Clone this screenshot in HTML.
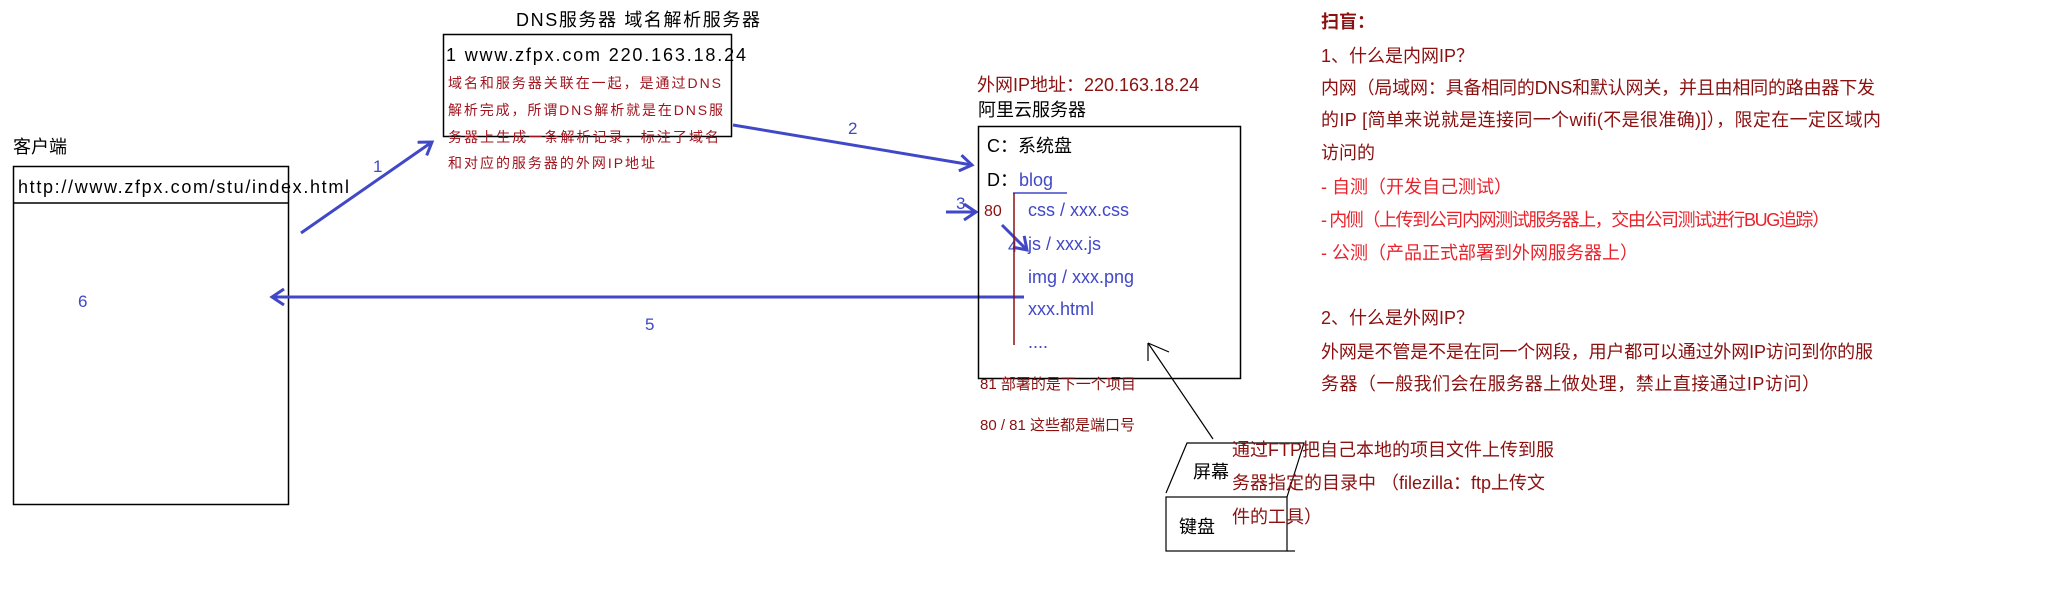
<!DOCTYPE html>
<html><head><meta charset="utf-8"><style>
html,body{margin:0;padding:0;background:#fff;}
svg{display:block;}
text{font-family:"Liberation Sans","Noto Sans CJK SC",sans-serif;}
</style></head><body>
<svg width="2046" height="615" viewBox="0 0 2046 615" xmlns="http://www.w3.org/2000/svg">
<defs>
<marker id="ah" markerWidth="16" markerHeight="18" refX="13" refY="9" orient="auto" markerUnits="userSpaceOnUse">
<path d="M1,1 L13,9 L1,17" fill="none" stroke="#4048c8" stroke-width="3"/>
</marker>
</defs>
<!-- DNS -->
<text x="516" y="26" font-size="18" fill="#000" textLength="244">DNS服务器  域名解析服务器</text>
<rect x="443.5" y="34.5" width="288" height="102" fill="none" stroke="#000" stroke-width="1.5"/>
<text x="446" y="61" font-size="18" fill="#000" textLength="300">1  www.zfpx.com    220.163.18.24</text>
<g font-size="14" fill="#a0141e">
<text x="448" y="88" textLength="273">域名和服务器关联在一起，是通过DNS</text>
<text x="448" y="115" textLength="275">解析完成，所谓DNS解析就是在DNS服</text>
<text x="448" y="142" textLength="271">务器上生成一条解析记录，标注了域名</text>
<text x="448" y="168" textLength="207">和对应的服务器的外网IP地址</text>
</g>
<!-- client -->
<text x="13" y="153" font-size="18" fill="#000">客户端</text>
<rect x="13.5" y="166.5" width="275" height="338" fill="none" stroke="#000" stroke-width="1.5"/>
<line x1="13" y1="203" x2="288" y2="203" stroke="#000" stroke-width="1.5"/>
<text x="18" y="193" font-size="18" fill="#000" textLength="331">http://www.zfpx.com/stu/index.html</text>
<!-- arrows -->
<g stroke="#4048c8" stroke-width="3" fill="none">
<line x1="301" y1="233" x2="432" y2="142" marker-end="url(#ah)"/>
<line x1="733" y1="125" x2="972" y2="165" marker-end="url(#ah)"/>
<line x1="946" y1="212" x2="976" y2="212" marker-end="url(#ah)"/>
<line x1="1002" y1="225" x2="1027" y2="250" marker-end="url(#ah)"/>
<line x1="1024" y1="297" x2="272" y2="297" marker-end="url(#ah)"/>
</g>
<g font-size="17" fill="#4048c8">
<text x="373" y="172">1</text>
<text x="848" y="134">2</text>
<text x="956" y="209">3</text>
<text x="1008" y="252">4</text>
<text x="645" y="330">5</text>
<text x="78" y="307">6</text>
</g>
<!-- server -->
<text x="977" y="91" font-size="18" fill="#8b1010">外网IP地址：220.163.18.24</text>
<text x="978" y="116" font-size="18" fill="#000">阿里云服务器</text>
<rect x="978.5" y="126.5" width="262" height="252" fill="none" stroke="#000" stroke-width="1.5"/>
<text x="987" y="152" font-size="18" fill="#000">C：系统盘</text>
<text x="987" y="186" font-size="18" fill="#000">D：</text>
<text x="1019" y="186" font-size="18" fill="#4048c8">blog</text>
<line x1="1013" y1="193" x2="1067" y2="193" stroke="#4048c8" stroke-width="1.5"/>
<line x1="1014" y1="193" x2="1014" y2="345" stroke="#8b1010" stroke-width="1.5"/>
<text x="984" y="216" font-size="16" fill="#8b1010">80</text>
<g font-size="18" fill="#4048c8">
<text x="1028" y="216">css / xxx.css</text>
<text x="1028" y="250">js / xxx.js</text>
<text x="1028" y="283">img / xxx.png</text>
<text x="1028" y="315">xxx.html</text>
<text x="1028" y="348">....</text>
</g>
<text x="980" y="389" font-size="15" fill="#8b1010">81   部署的是下一个项目</text>
<text x="980" y="430" font-size="15" fill="#8b1010">80 / 81 这些都是端口号</text>
<!-- monitor/keyboard -->
<g stroke="#000" stroke-width="1.2" fill="none">
<line x1="1213" y1="439" x2="1148" y2="343"/>
<line x1="1148" y1="343" x2="1148" y2="361"/>
<line x1="1148" y1="343" x2="1169" y2="352"/>
<polyline points="1166,493 1187,443 1304,443 1287,497"/>
<rect x="1166" y="497" width="121" height="54"/>
<line x1="1287" y1="551" x2="1295" y2="551"/>
</g>
<text x="1193" y="478" font-size="18" fill="#000">屏幕</text>
<text x="1179" y="533" font-size="18" fill="#000">键盘</text>
<g font-size="18" fill="#8b1010">
<text x="1232" y="456">通过FTP把自己本地的项目文件上传到服</text>
<text x="1232" y="489">务器指定的目录中 （filezilla：ftp上传文</text>
<text x="1232" y="523">件的工具）</text>
</g>
<!-- right text -->
<g font-size="18">
<text x="1321" y="28" fill="#8b1010" font-weight="bold">扫盲：</text>
<text x="1321" y="62" fill="#8b1010">1、什么是内网IP？</text>
<text x="1321" y="94" fill="#8b1010" textLength="554">内网（局域网：具备相同的DNS和默认网关，并且由相同的路由器下发</text>
<text x="1321" y="126" fill="#8b1010" textLength="560">的IP  [简单来说就是连接同一个wifi(不是很准确)]），限定在一定区域内</text>
<text x="1321" y="159" fill="#8b1010">访问的</text>
<text x="1321" y="193" fill="#e8232b">- 自测（开发自己测试）</text>
<text x="1321" y="226" fill="#e8232b" textLength="509">- 内侧（上传到公司内网测试服务器上，交由公司测试进行BUG追踪）</text>
<text x="1321" y="259" fill="#e8232b">- 公测（产品正式部署到外网服务器上）</text>
<text x="1321" y="324" fill="#8b1010">2、什么是外网IP？</text>
<text x="1321" y="358" fill="#8b1010" textLength="552">外网是不管是不是在同一个网段，用户都可以通过外网IP访问到你的服</text>
<text x="1321" y="390" fill="#8b1010" textLength="499">务器（一般我们会在服务器上做处理，禁止直接通过IP访问）</text>
</g>
</svg>
</body></html>
